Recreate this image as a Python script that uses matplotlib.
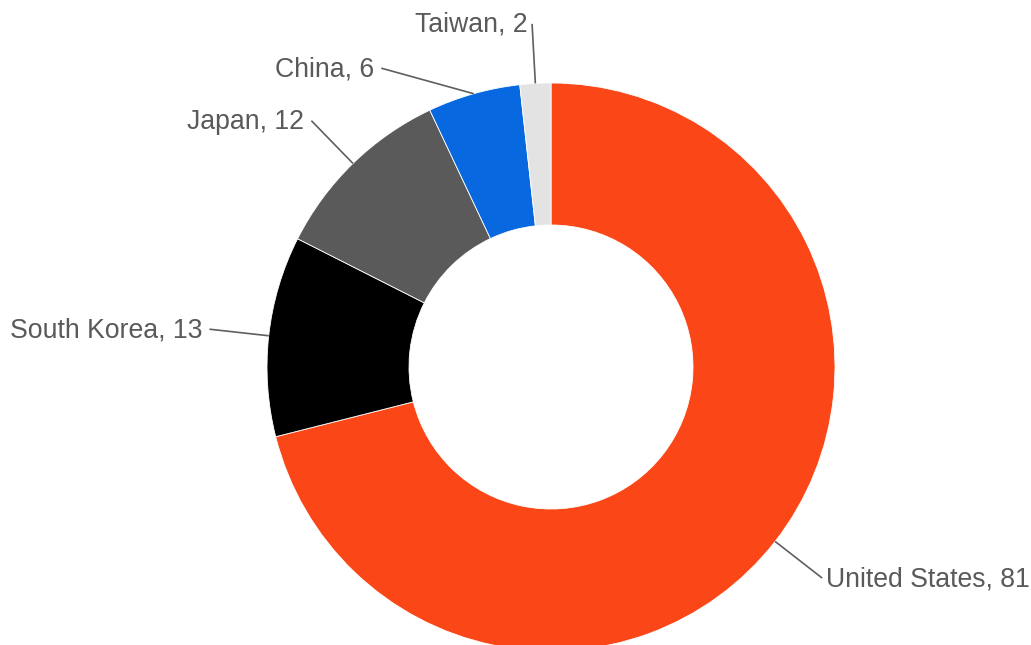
#!/usr/bin/env python3

import matplotlib
matplotlib.use('Agg')
import matplotlib.pyplot as plt
import numpy as np

# ======================================================================
# Data.
# ======================================================================

countries = ['United States', 'South Korea', 'Japan', 'China', 'Taiwan']
values = [81, 13, 12, 6, 2]
slice_colors = ['#fb4717', '#000000', '#5a5a5a', '#0768e0', '#e3e3e3']
# angular nudge (degrees, clockwise) of a label to keep it clear of others
label_shift = {'China': -13.8}

# ======================================================================
# Layout, in pixels.
# ======================================================================

W, H = 1031, 645
cx, cy = 551, H - 367
R = 284
hole = 0.5
label_r = 1.21 * R
text_color = '#5a5a5a'

plt.rcParams['font.family'] = ['Liberation Sans', 'DejaVu Sans']

fig = plt.figure(figsize=(W / 100, H / 100), dpi=100)
ax = fig.add_axes([0, 0, 1, 1])

wedges, _ = ax.pie(
    values,
    colors=slice_colors,
    startangle=90,
    counterclock=False,
    radius=R,
    center=(cx, cy),
    wedgeprops=dict(width=R * (1 - hole), edgecolor='white', linewidth=0.6),
    )

ax.set_xlim(0, W)
ax.set_ylim(0, H)
ax.set_aspect('equal')
ax.axis('off')

# ======================================================================
# Leader lines and labels.
# ======================================================================

total = float(sum(values))
start = 0.
for name, v in zip(countries, values):
    mid = start + 0.5 * v / total * 360.
    start += v / total * 360.
    a0 = np.radians(mid)
    x0 = cx + R * np.sin(a0)
    y0 = cy + R * np.cos(a0)
    a1 = np.radians(mid + label_shift.get(name, 0.))
    x1 = cx + label_r * np.sin(a1)
    y1 = cy + label_r * np.cos(a1)
    ax.plot([x0, x1], [y0, y1], color='#5f5f5f', lw=1.2,
        solid_capstyle='butt', zorder=3)
    if x1 >= cx:
        ax.text(x1 + 4, y1 - 1, '{}, {}'.format(name, v), ha='left',
            va='center', fontsize=19.2, color=text_color)
    elif abs(x1 - cx) < 40:
        ax.text(x1 - 4, y1 - 1, '{}, {}'.format(name, v), ha='right',
            va='center', fontsize=19.2, color=text_color)
    else:
        ax.text(x1 - 7, y1 - 1, '{}, {}'.format(name, v), ha='right',
            va='center', fontsize=19.2, color=text_color)

fig.savefig('out.png', dpi=100, facecolor='white')
plt.close()
